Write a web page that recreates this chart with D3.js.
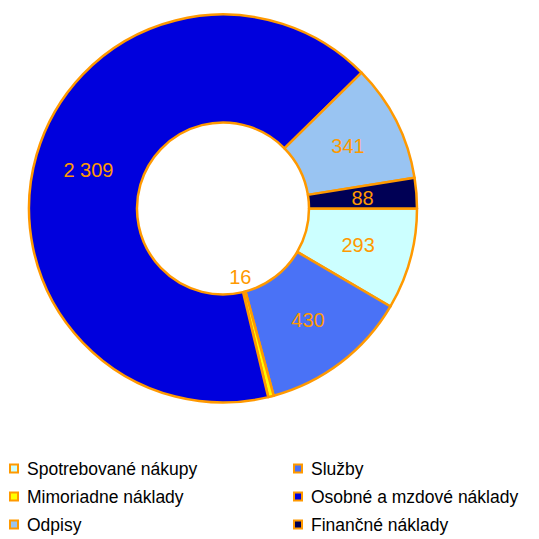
<!DOCTYPE html>
<html><head><meta charset="utf-8">
<script src="https://cdn.jsdelivr.net/npm/d3@7"></script>
<style>body{margin:0;background:#fff}svg{display:block}</style>
</head><body>
<script>
const categories = ["Spotrebované nákupy","Služby","Mimoriadne náklady","Osobné a mzdové náklady","Odpisy","Finančné náklady"];
const values = [293, 430, 16, 2309, 341, 88];
const colors = ["#CCFFFF","#4A72F6","#FFFF00","#0000DD","#99C4F2","#000055"];

const W = 539, H = 539;
const cx = 223, cy = 208.5, R = 194, r0 = 86;
const svg = d3.select("body").append("svg").attr("width", W).attr("height", H);
const g = svg.append("g").attr("transform", `translate(${cx},${cy})`);

const pie = d3.pie().sort(null).value(d => d).startAngle(Math.PI/2).endAngle(Math.PI/2 + 2*Math.PI);
const arcs = pie(values);
const arc = d3.arc().innerRadius(r0).outerRadius(R);
const labelArc = d3.arc().innerRadius(140).outerRadius(140);
const smallArc = d3.arc().innerRadius(70).outerRadius(70);
const fmt = d3.formatLocale({decimal: ",", thousands: " ", grouping: [3], currency: ["", "€"]}).format(",d");

g.selectAll("path").data(arcs).join("path")
  .attr("d", arc)
  .attr("fill", (d, i) => colors[i])
  .attr("stroke", "#FF9900")
  .attr("stroke-width", 2.5)
  .attr("stroke-linejoin", "round");

g.selectAll("text").data(arcs).join("text")
  .attr("transform", d => `translate(${(d.value < 50 ? smallArc : labelArc).centroid(d)})`)
  .attr("text-anchor", "middle")
  .attr("dy", "0.36em")
  .attr("font-family", "Liberation Sans, Arial, sans-serif")
  .attr("font-size", 20)
  .attr("fill", "#FF9900")
  .text(d => fmt(d.value));

const legend = svg.append("g");
const colX = [9, 293], rowY = [469, 497, 525];
categories.forEach((c, i) => {
  const x = colX[i % 2], y = rowY[Math.floor(i / 2)];
  const it = legend.append("g").attr("transform", `translate(${x},${y})`);
  it.append("rect").attr("x", 1).attr("y", -4.5).attr("width", 8).attr("height", 8)
    .attr("fill", colors[i]).attr("stroke", "#FF9900").attr("stroke-width", 2);
  it.append("text").attr("x", 18).attr("dy", "0.36em")
    .attr("font-family", "Liberation Sans, Arial, sans-serif")
    .attr("font-size", 17.5).attr("fill", "#000").text(c);
});
</script>
</body></html>
